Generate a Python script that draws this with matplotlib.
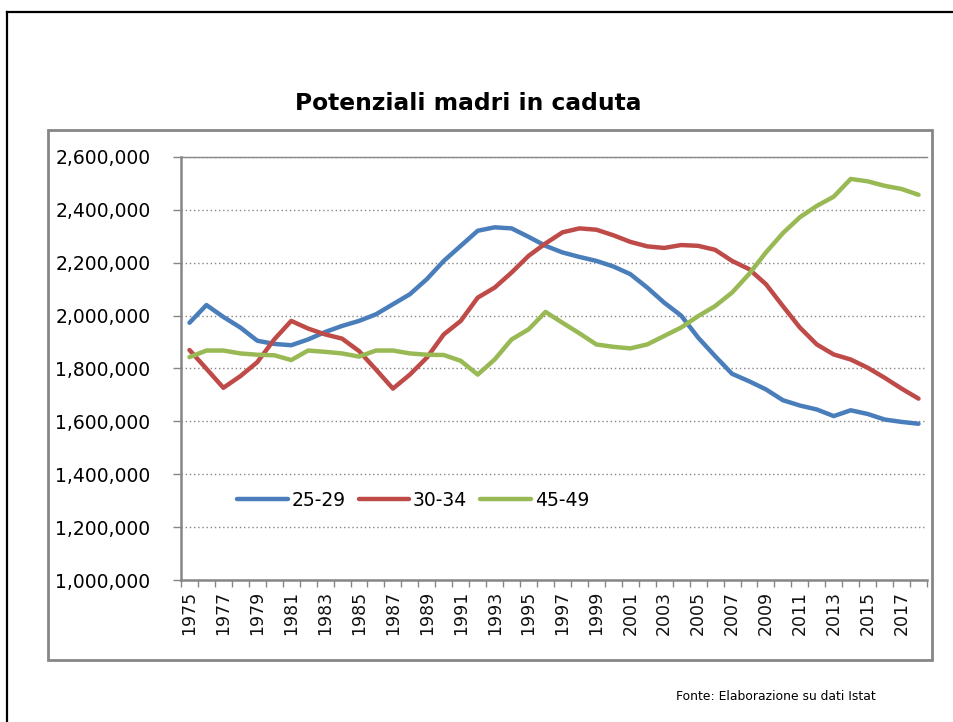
import numpy as np
import matplotlib
matplotlib.use("Agg")
import matplotlib.pyplot as plt
from matplotlib.patches import Rectangle
from matplotlib.lines import Line2D
from matplotlib.ticker import FuncFormatter

years = list(range(1975, 2019))

# 25-29
eta_25_29 = [1973000, 2040000, 1995000, 1955000, 1905000, 1893000, 1888000, 1910000,
             1938000, 1961000, 1980000, 2005000, 2043000, 2081000, 2138000, 2207000,
             2264000, 2321000, 2334000, 2330000, 2298000, 2264000, 2239000, 2222000,
             2207000, 2186000, 2157000, 2106000, 2049000, 2000000, 1917000, 1847000,
             1780000, 1752000, 1721000, 1680000, 1660000, 1645000, 1620000, 1642000,
             1628000, 1607000, 1598000, 1591000]
# 30-34
eta_30_34 = [1870000, 1799000, 1727000, 1771000, 1824000, 1910000, 1980000, 1951000,
             1929000, 1913000, 1866000, 1796000, 1724000, 1777000, 1841000, 1929000,
             1980000, 2068000, 2106000, 2163000, 2226000, 2273000, 2315000, 2330000,
             2325000, 2304000, 2279000, 2262000, 2256000, 2267000, 2264000, 2249000,
             2207000, 2176000, 2119000, 2036000, 1955000, 1891000, 1853000, 1834000,
             1803000, 1765000, 1724000, 1686000]
# 45-49
eta_45_49 = [1843000, 1868000, 1868000, 1857000, 1852000, 1850000, 1832000, 1868000,
             1863000, 1857000, 1845000, 1868000, 1868000, 1857000, 1852000, 1851000,
             1829000, 1777000, 1834000, 1910000, 1948000, 2014000, 1973000, 1933000,
             1891000, 1882000, 1876000, 1891000, 1923000, 1955000, 1998000, 2036000,
             2087000, 2157000, 2239000, 2312000, 2372000, 2415000, 2450000, 2517000,
             2508000, 2491000, 2479000, 2457000]

series = ["25-29", "30-34", "45-49"]
colors = ["#4A7EBB", "#BE4B48", "#98B954"]

W, H = 954, 722
fig = plt.figure(figsize=(W / 100, H / 100), dpi=100)
fig.patch.set_facecolor("white")

# cornice della slide (solo lati sinistro e superiore)
fig.add_artist(Line2D([7 / W, 7 / W], [0, 1 - 12 / H], color="black", lw=1.6,
                      transform=fig.transFigure))
fig.add_artist(Line2D([7 / W, 1], [1 - 12 / H, 1 - 12 / H], color="black", lw=1.6,
                      transform=fig.transFigure))

# riquadro del grafico
fig.add_artist(Rectangle((48 / W, 1 - 660 / H), (932 - 48) / W, (660 - 130) / H,
                         fill=False, edgecolor="#868686", lw=2,
                         transform=fig.transFigure))

ax = fig.add_axes([181 / W, 1 - 580 / H, (927 - 181) / W, (580 - 157) / H])
x = np.arange(len(years))
for vals, name, c in zip([eta_25_29, eta_30_34, eta_45_49], series, colors):
    ax.plot(x, vals, color=c, lw=3.2, label=name, solid_capstyle="round")

ax.set_xlim(-0.5, len(years) - 0.5)
ax.set_ylim(1000000, 2600000)
ax.set_yticks(np.arange(1000000, 2600001, 200000))
ax.yaxis.set_major_formatter(FuncFormatter(lambda v, p: f"{v:,.0f}"))
ax.grid(axis="y", color="#868686", linestyle=(0, (1, 2)), lw=1)
ax.set_axisbelow(True)

ax.set_xticks(np.arange(-0.5, len(years), 1))
ax.set_xticklabels([])
ax.set_xticks(x[::2], minor=True)
ax.set_xticklabels([str(y) for y in years[::2]], minor=True, rotation=90,
                   fontsize=12.5, color="#111111")
ax.tick_params(axis="x", which="major", length=5, color="#868686", width=1)
ax.tick_params(axis="x", which="minor", length=0, pad=8)
ax.tick_params(axis="y", length=6, color="#868686", width=1, labelsize=13.5, pad=16)

ax.spines["right"].set_visible(False)
for s in ["left", "bottom", "top"]:
    ax.spines[s].set_color("#868686")
ax.spines["left"].set_linewidth(1.8)
ax.spines["bottom"].set_linewidth(1.8)
ax.spines["top"].set_linewidth(1)

ax.legend(loc="center", bbox_to_anchor=(413 / W, 1 - 500 / H),
          bbox_transform=fig.transFigure, ncol=3, frameon=False, fontsize=13.5,
          handlelength=2.7, handletextpad=0.2, columnspacing=0.7)

fig.text(468 / W, 1 - 103 / H, "Potenziali madri in caduta", ha="center",
         va="center", fontsize=16.8, fontweight="bold")
fig.text(776 / W, 1 - 697 / H, "Fonte: Elaborazione su dati Istat", ha="center",
         va="center", fontsize=8.9)

fig.savefig("out.png", dpi=100)
